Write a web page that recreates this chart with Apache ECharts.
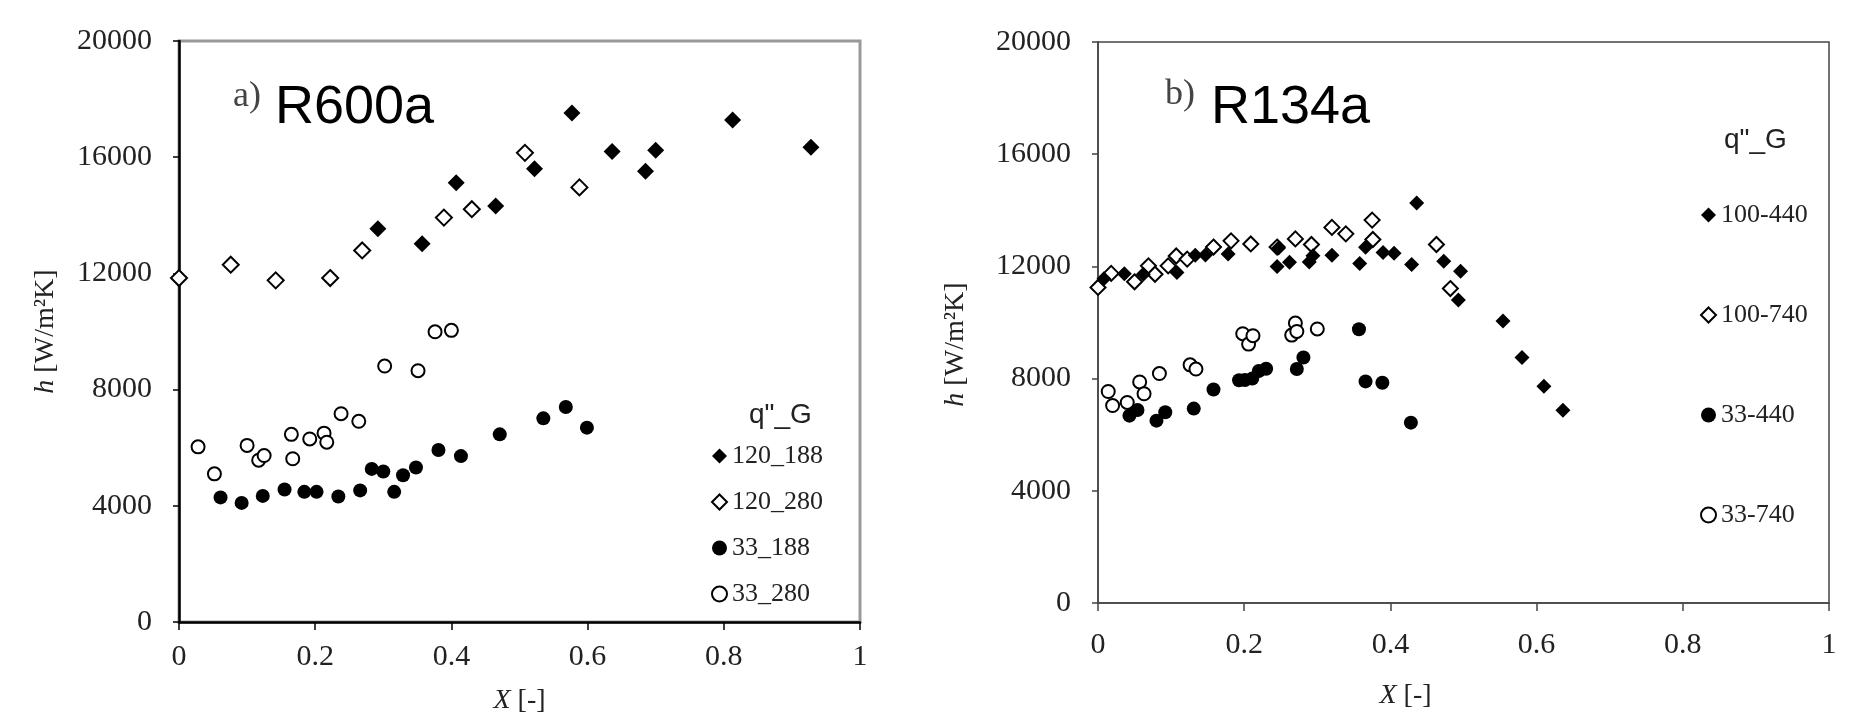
<!DOCTYPE html>
<html>
<head>
<meta charset="utf-8">
<title>h vs X</title>
<script src="https://cdn.jsdelivr.net/npm/echarts@6/dist/echarts.min.js"></script>
<style>
    html, body {margin: 0; padding: 0; background: #fff;}
    #chart {width: 1872px; height: 721px;}
</style>
</head>
<body>
<div id="chart"></div>
<script>
//a) R600a
var x120_188 = [0.292, 0.357, 0.407, 0.465, 0.522, 0.577, 0.636, 0.685, 0.700, 0.813, 0.928];
var h120_188 = [13540, 13020, 15120, 14320, 15600, 17520, 16200, 15520, 16240, 17280, 16340];
var x120_280 = [0.000, 0.076, 0.142, 0.222, 0.269, 0.389, 0.430, 0.508, 0.588];
var h120_280 = [11840, 12300, 11760, 11840, 12790, 13920, 14210, 16150, 14960];
var x33_188 = [0.061, 0.092, 0.123, 0.155, 0.184, 0.202, 0.234, 0.266, 0.283, 0.300, 0.316, 0.329, 0.348, 0.381, 0.414, 0.471, 0.535, 0.568, 0.599];
var h33_188 = [4290, 4100, 4340, 4560, 4480, 4480, 4320, 4530, 5270, 5180, 4480, 5050, 5320, 5920, 5710, 6460, 7010, 7400, 6690];
var x33_280 = [0.028, 0.052, 0.100, 0.117, 0.125, 0.165, 0.167, 0.192, 0.213, 0.217, 0.238, 0.264, 0.302, 0.351, 0.376, 0.400];
var h33_280 = [6030, 5100, 6080, 5570, 5730, 6460, 5620, 6300, 6500, 6190, 7170, 6910, 8810, 8650, 9990, 10040];

//b) R134a
var x100_440 = [0.008, 0.036, 0.062, 0.108, 0.133, 0.147, 0.178, 0.245, 0.247, 0.262, 0.289, 0.294, 0.320, 0.358, 0.366, 0.390, 0.405, 0.429, 0.436, 0.473, 0.496, 0.493, 0.554, 0.580, 0.610, 0.636];
var h100_440 = [11560, 11740, 11720, 11780, 12400, 12410, 12440, 12000, 12660, 12150, 12160, 12380, 12400, 12100, 12680, 12500, 12470, 12070, 14260, 12180, 11830, 10800, 10050, 8750, 7730, 6870];
var x100_740 = [0.000, 0.018, 0.050, 0.069, 0.078, 0.096, 0.107, 0.122, 0.158, 0.182, 0.209, 0.245, 0.270, 0.292, 0.320, 0.339, 0.375, 0.376, 0.463, 0.482];
var h100_740 = [11250, 11750, 11450, 12020, 11720, 12020, 12370, 12260, 12690, 12910, 12800, 12690, 12980, 12780, 13390, 13160, 13650, 12960, 12780, 11210];
var x33_440 = [0.043, 0.054, 0.080, 0.092, 0.131, 0.158, 0.193, 0.201, 0.211, 0.220, 0.230, 0.272, 0.281, 0.357, 0.366, 0.389, 0.428];
var h33_440 = [6680, 6880, 6500, 6800, 6930, 7610, 7940, 7950, 8000, 8270, 8350, 8340, 8750, 9760, 7900, 7850, 6430];
var x33_740 = [0.014, 0.020, 0.040, 0.057, 0.063, 0.084, 0.126, 0.134, 0.198, 0.206, 0.212, 0.265, 0.270, 0.272, 0.300];
var h33_740 = [7540, 7040, 7150, 7880, 7460, 8180, 8490, 8340, 9600, 9230, 9530, 9550, 9980, 9680, 9770];

var xTicks = {min: 0, max: 1, interval: 0.2};
var yTicks = {min: 0, max: 20000, interval: 4000};

var serif = 'Liberation Serif';
var sans = 'Liberation Sans';

function pairs (xs, ys) {
    var out = [];
    for (var i = 0; i < xs.length; i++) {
        out.push([xs[i], ys[i]]);
    }
    return out;
}

//散点系列
function dots (name, idx, xs, ys, symbol, size, filled) {
    return {
        name: name,
        type: 'scatter',
        xAxisIndex: idx,
        yAxisIndex: idx,
        symbol: symbol,
        symbolSize: size,
        data: pairs(xs, ys),
        itemStyle: filled
            ? {color: '#000', opacity: 1}
            : {color: '#fff', borderColor: '#000', borderWidth: 2, opacity: 1},
        emphasis: {disabled: true},
        z: filled ? 3 : 2
    };
}

function xAxis (idx, lineColor, lineWidth, margin, gap, padRight) {
    return {
        gridIndex: idx,
        type: 'value',
        min: xTicks.min,
        max: xTicks.max,
        interval: xTicks.interval,
        name: '{i|X} [-]',
        nameLocation: 'middle',
        nameGap: gap,
        nameTextStyle: {
            fontFamily: serif, fontSize: 28, color: '#222',
            padding: [0, padRight, 0, 0],
            rich: {i: {fontFamily: serif, fontSize: 28, fontStyle: 'italic', color: '#222'}}
        },
        splitLine: {show: false},
        axisLine: {lineStyle: {color: lineColor, width: lineWidth}},
        axisTick: {inside: false, length: 8, lineStyle: {color: lineColor, width: 1.5}},
        axisLabel: {
            margin: margin,
            fontFamily: serif, fontSize: 30, color: '#222',
            formatter: function (v) { return String(+v.toFixed(1)); }
        }
    };
}

function yAxis (idx, lineColor, lineWidth, gap, padRight) {
    return {
        gridIndex: idx,
        type: 'value',
        min: yTicks.min,
        max: yTicks.max,
        interval: yTicks.interval,
        name: '{i|h} [W/m²K]',
        nameLocation: 'middle',
        nameGap: gap,
        nameTextStyle: {
            fontFamily: serif, fontSize: 28, color: '#222',
            padding: [0, padRight, 0, 0],
            rich: {i: {fontFamily: serif, fontSize: 28, fontStyle: 'italic', color: '#222'}}
        },
        splitLine: {show: false},
        axisLine: {show: true, lineStyle: {color: lineColor, width: lineWidth}},
        axisTick: {show: true, inside: false, length: 6, lineStyle: {color: lineColor, width: 1.5}},
        axisLabel: {
            margin: 27, fontFamily: serif, fontSize: 30, color: '#222',
            formatter: function (v) { return String(v); }
        }
    };
}

var legendText = {fontFamily: serif, fontSize: 26, lineHeight: 26, color: '#222'};

var chart = echarts.init(document.getElementById('chart'));
var option = {
    backgroundColor: '#fff',
    animation: false,
    title: [
        {text: 'a)', left: 228, top: 74, textStyle: {fontFamily: serif, fontSize: 36, fontWeight: 'normal', color: '#444'}},
        {text: 'R600a', left: 270, top: 76, textStyle: {fontFamily: sans, fontSize: 54, fontWeight: 'normal', color: '#000'}},
        {text: 'b)', left: 1160, top: 72, textStyle: {fontFamily: serif, fontSize: 36, fontWeight: 'normal', color: '#444'}},
        {text: 'R134a', left: 1206, top: 76, textStyle: {fontFamily: sans, fontSize: 54, fontWeight: 'normal', color: '#000'}},
        {text: 'q"_G', left: 744, top: 396, textStyle: {fontFamily: sans, fontSize: 28, fontWeight: 'normal', color: '#222'}},
        {text: 'q"_G', left: 1719, top: 121, textStyle: {fontFamily: sans, fontSize: 28, fontWeight: 'normal', color: '#222'}}
    ],
    legend: [
        {
            orient: 'vertical', left: 706, top: 438,
            itemWidth: 15, itemHeight: 15, itemGap: 20,
            textStyle: legendText,
            data: ['120_188', '120_280', '33_188', '33_280']
        },
        {
            orient: 'vertical', left: 1695, top: 197,
            itemWidth: 15, itemHeight: 15, itemGap: 74,
            textStyle: legendText,
            data: ['100-440', '100-740', '33-440', '33-740']
        }
    ],
    grid: [
        {left: 179, top: 41, width: 681, height: 581, show: true, borderColor: '#999', borderWidth: 3, backgroundColor: 'transparent'},
        {left: 1098, top: 42, width: 731, height: 561, show: true, borderColor: '#444', borderWidth: 1.5, backgroundColor: 'transparent'}
    ],
    xAxis: [
        xAxis(0, '#000', 2.5, 20, 65, 0),
        xAxis(1, '#444', 1.5, 27, 79, 116)
    ],
    yAxis: [
        yAxis(0, '#000', 2.5, 119, 0),
        yAxis(1, '#444', 1.5, 128, 44)
    ],
    series: [
        dots('120_188', 0, x120_188, h120_188, 'diamond', 17, true),
        dots('120_280', 0, x120_280, h120_280, 'diamond', 16, false),
        dots('33_188', 0, x33_188, h33_188, 'circle', 14, true),
        dots('33_280', 0, x33_280, h33_280, 'circle', 13, false),
        dots('100-440', 1, x100_440, h100_440, 'diamond', 15, true),
        dots('100-740', 1, x100_740, h100_740, 'diamond', 15, false),
        dots('33-440', 1, x33_440, h33_440, 'circle', 14, true),
        dots('33-740', 1, x33_740, h33_740, 'circle', 13, false)
    ]
};
chart.setOption(option);
</script>
</body>
</html>
